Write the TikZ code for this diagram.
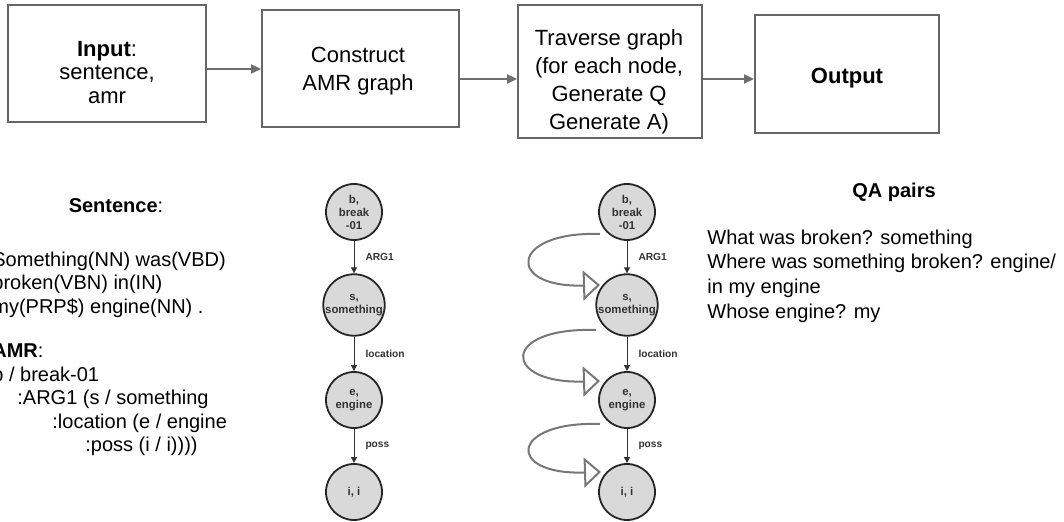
\documentclass[tikz,border=0pt]{standalone}
\usepackage{fontspec}
\setmainfont{Liberation Sans}
\usetikzlibrary{arrows.meta,calc}
\definecolor{boxgray}{HTML}{666666}
\definecolor{arrgray}{HTML}{6E6E6E}
\definecolor{loopgray}{HTML}{777777}
\definecolor{nodefill}{HTML}{D9D9D9}
\definecolor{inkgray}{HTML}{333333}
\begin{document}
\begin{tikzpicture}[x=0.5pt,y=-0.5pt,
  flowbox/.style={draw=boxgray,line width=1pt,inner sep=0pt},
  boxtxt/.style={align=center,inner sep=0pt,anchor=north,font=\fontsize{11}{13.9}\selectfont},
  flow/.style={draw=arrgray,line width=0.75pt,-{Triangle[length=5pt,width=4.6pt]}},
  amrnode/.style={circle,draw=black!85,line width=0.9pt,fill=nodefill,minimum size=28pt,inner sep=0pt,
    align=center,text=inkgray,font=\bfseries\fontsize{5.7}{6.5}\selectfont},
  edge/.style={draw=inkgray,line width=0.5pt,-{Triangle[length=3pt,width=3pt]}},
  elabel/.style={right=5.5pt,inner sep=0pt,text=inkgray,font=\bfseries\fontsize{5.1}{6}\selectfont},
  visit/.style={draw=loopgray,line width=1pt,-{Triangle[open,length=8.5pt,width=15pt]}},
  plaintxt/.style={align=left,inner sep=0pt,anchor=north west,font=\fontsize{10}{11.75}\selectfont},
  headtxt/.style={inner sep=0pt,anchor=base,font=\fontsize{10}{12}\selectfont}
]
\useasboundingbox (0,0) rectangle (1064,522);
\clip (0,0) rectangle (1064,522);

% top flow boxes
\node[flowbox,minimum width=99pt,minimum height=58.5pt] (b1) at (107,63.5) {};
\node[flowbox,minimum width=98.5pt,minimum height=58.5pt] (b2) at (360.5,68.5) {};
\node[flowbox,minimum width=92pt,minimum height=66.5pt] (b3) at (610,71.5) {};
\node[flowbox,minimum width=92pt,minimum height=59pt] (b4) at (847,74) {};

\node[boxtxt,font=\fontsize{11}{11.75}\selectfont] (t1) at (107,40.5) {\textbf{Input}:\\sentence,\\amr};
\node[boxtxt,font=\fontsize{11}{14}\selectfont] (t2) at (358,47) {Construct\\AMR graph};
\node[boxtxt] (t3) at (609,29.5) {Traverse graph\\(for each node,\\Generate Q\\Generate A)};
\node[boxtxt] (t4) at (847,68) {\textbf{Output}};

\draw[flow] ($(b1.east)+(0,5.5)$) -- ($(b2.west)+(0,0.5)$);
\draw[flow] ($(b2.east)+(0,10.5)$) -- ($(b3.west)+(0,7.5)$);
\draw[flow] ($(b3.east)+(0,7.5)$) -- ($(b4.west)+(0,5)$);

% left texts
\node[headtxt] (shead) at (116,213) {\textbf{Sentence}:};
\node[plaintxt] (stxt) at (-8,251.4) {Something(NN) was(VBD)\\broken(VBN) in(IN)\\my(PRP\$) engine(NN) .};
\node[plaintxt] (atxt) at (-8,343.4) {\textbf{AMR}:\\b / break-01\\\hspace*{12.5pt}:ARG1 (s / something\\\hspace*{30pt}:location (e / engine\\\hspace*{46.5pt}:poss (i / i))))};

% graph 1
\node[amrnode] (n1) at (354,212) {b,\\break\\-01};
\node[amrnode] (n2) at (354,305) {s,\\something};
\node[amrnode] (n3) at (354,400) {e,\\engine};
\node[amrnode] (n4) at (354,492) {i, i};
\draw[edge] (n1) -- node[elabel] {ARG1} (n2);
\draw[edge] (n2) -- node[elabel] {location} (n3);
\draw[edge] (n3) -- node[elabel] {poss} (n4);

% graph 2
\node[amrnode] (m1) at (627,212) {b,\\break\\-01};
\node[amrnode] (m2) at (627,305) {s,\\something};
\node[amrnode] (m3) at (627,400) {e,\\engine};
\node[amrnode] (m4) at (627,492) {i, i};
\draw[edge] (m1) -- node[elabel] {ARG1} (m2);
\draw[edge] (m2) -- node[elabel] {location} (m3);
\draw[edge] (m3) -- node[elabel] {poss} (m4);

\coordinate (s1) at (600,234);
\coordinate (e1) at (600,285);
\coordinate (s2) at (596,330);
\coordinate (e2) at (600,381);
\coordinate (s3) at (600,424);
\coordinate (e3) at (601,472);
\draw[visit] (s1) .. controls (510,231) and (505,288) .. (e1);
\draw[visit] (s2) .. controls (500,327) and (502,384) .. (e2);
\draw[visit] (s3) .. controls (510,421) and (505,475) .. (e3);

% QA
\node[headtxt] (qhead) at (894,198) {\textbf{QA pairs}};
\node[plaintxt,font=\fontsize{10}{12.35}\selectfont] (qtxt) at (707,229.4) {What was broken? something\\Where was something broken? engine/\\in my engine\\Whose engine? my};
\end{tikzpicture}
\end{document}
